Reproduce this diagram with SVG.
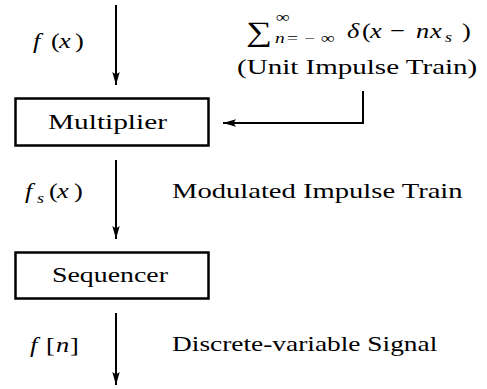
<svg xmlns="http://www.w3.org/2000/svg" width="487" height="389" viewBox="0 0 487 389">
<defs>
<marker id="ah" markerUnits="userSpaceOnUse" markerWidth="14" markerHeight="9" refX="13" refY="4.5" orient="auto">
<path d="M0,0.8 L13,4.5 L0,8.2 L2.5,4.5 z" fill="#000"/>
</marker>
</defs>
<g id="connectors" fill="none" stroke="#000" stroke-width="2">
<line x1="116" y1="5" x2="116" y2="85" marker-end="url(#ah)"/>
<path d="M363,91 V123 H223" marker-end="url(#ah)"/>
<line x1="116" y1="160" x2="116" y2="239" marker-end="url(#ah)"/>
<line x1="116" y1="313" x2="116" y2="385" marker-end="url(#ah)"/>
</g>
<g id="multiplier">
<rect x="15.5" y="98.5" width="193" height="47" fill="#fff" stroke="#000" stroke-width="2.5"/>
<text font-family="Liberation Serif" font-size="22" transform="translate(48,129) scale(1.334,1)">Multiplier</text>
</g>
<g id="sequencer">
<rect x="15.5" y="252.5" width="193" height="46" fill="#fff" stroke="#000" stroke-width="2.5"/>
<text font-family="Liberation Serif" font-size="22" transform="translate(52,282) scale(1.266,1)">Sequencer</text>
</g>
<g id="labels" font-family="Liberation Serif" font-size="22">
<text font-family="Liberation Serif" font-style="italic" transform="translate(33,48) scale(1.2,1)">f</text>
<text font-family="Liberation Serif" transform="translate(51,48) scale(1.2,1)">(</text>
<text font-family="Liberation Serif" font-style="italic" transform="translate(59,48) scale(1.2,1)">x</text>
<text font-family="Liberation Serif" transform="translate(75,48) scale(1.2,1)">)</text>
<text font-family="Liberation Serif" font-style="italic" transform="translate(25,198) scale(1.2,1)">f</text>
<text font-family="Liberation Serif" font-style="italic" font-size="15" transform="translate(37,203) scale(1.2,1)">s</text>
<text font-family="Liberation Serif" transform="translate(49,198) scale(1.2,1)">(</text>
<text font-family="Liberation Serif" font-style="italic" transform="translate(57,198) scale(1.2,1)">x</text>
<text font-family="Liberation Serif" transform="translate(74,198) scale(1.2,1)">)</text>
<text font-family="Liberation Serif" font-style="italic" transform="translate(30,352) scale(1.2,1)">f</text>
<text font-family="Liberation Serif" transform="translate(46,352) scale(1.2,1)">[</text>
<text font-family="Liberation Serif" font-style="italic" transform="translate(56,352) scale(1.2,1)">n</text>
<text font-family="Liberation Serif" transform="translate(70,352) scale(1.2,1)">]</text>
<text font-family="Liberation Serif" font-size="28" transform="translate(246,41) scale(1.3,1)">∑</text>
<text font-family="Liberation Serif" font-size="15" transform="translate(276,22) scale(1.3,1)">∞</text>
<text font-family="Liberation Serif" font-size="15" font-style="italic" transform="translate(275,43) scale(1.3,1)">n</text>
<text font-family="Liberation Serif" font-size="15" transform="translate(287,43) scale(1.3,1)">=</text>
<text font-family="Liberation Serif" font-size="15" transform="translate(304,43) scale(1.3,1)">−</text>
<text font-family="Liberation Serif" font-size="15" transform="translate(321,43) scale(1.3,1)">∞</text>
<text font-family="Liberation Serif" font-style="italic" transform="translate(347,38) scale(1.2,1)">δ</text>
<text font-family="Liberation Serif" transform="translate(362,38) scale(1.2,1)">(</text>
<text font-family="Liberation Serif" font-style="italic" transform="translate(370,38) scale(1.2,1)">x</text>
<text font-family="Liberation Serif" transform="translate(390,38) scale(1.2,1)">−</text>
<text font-family="Liberation Serif" font-style="italic" transform="translate(416,38) scale(1.2,1)">n</text>
<text font-family="Liberation Serif" font-style="italic" transform="translate(430,38) scale(1.2,1)">x</text>
<text font-family="Liberation Serif" font-style="italic" font-size="15" transform="translate(445,42) scale(1.2,1)">s</text>
<text font-family="Liberation Serif" transform="translate(462,38) scale(1.2,1)">)</text>
<text font-family="Liberation Serif" transform="translate(237,74) scale(1.32,1)">(Unit Impulse Train)</text>
<text font-family="Liberation Serif" transform="translate(172,198) scale(1.3,1)">Modulated Impulse Train</text>
<text font-family="Liberation Serif" transform="translate(172,351) scale(1.245,1)">Discrete-variable Signal</text>
</g>
</svg>
